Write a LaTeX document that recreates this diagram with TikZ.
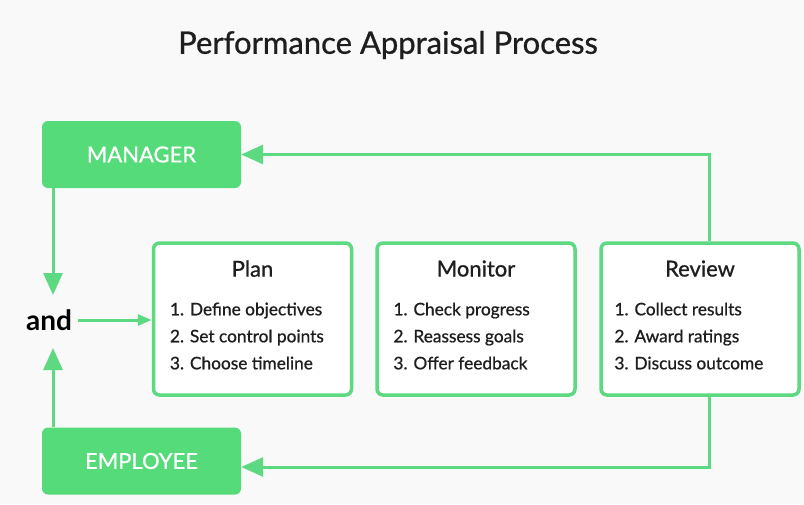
\documentclass[tikz,border=0pt]{standalone}
\usepackage{fontspec}
\setmainfont{Lato}
\newfontfamily\medfont{Lato}[FakeBold=0.8]
\usetikzlibrary{arrows.meta,positioning,calc}
\definecolor{grn}{RGB}{86,219,122}
\definecolor{grnline}{RGB}{93,217,130}
\definecolor{bg}{RGB}{249,249,249}
\definecolor{ink}{RGB}{30,30,30}

\begin{document}
\begin{tikzpicture}[x=1pt,y=-1pt,>={Triangle[length=22pt,width=19pt]}]
\tikzstyle{who}=[fill=grn,rounded corners=6pt,minimum width=199pt,minimum height=67pt,text=white,font=\medfont\fontsize{22}{26}\selectfont]
\tikzstyle{stage}=[draw=grnline,line width=3.5pt,fill=white,rounded corners=6pt,minimum width=198pt,minimum height=152pt]
\tikzstyle{head}=[text=ink,font=\medfont\fontsize{22}{26}\selectfont,inner sep=0pt]
\tikzstyle{items}=[text=ink,align=left,font=\medfont\fontsize{17.3}{27}\selectfont,inner sep=0pt,anchor=west]
\tikzstyle{flow}=[draw=grnline,line width=3pt]
\fill[bg] (0,0) rectangle (804,504);
\useasboundingbox (0,0) rectangle (804,504);
% title
\node[text=ink,font=\medfont\fontsize{31}{36}\selectfont] (title) at (388,45) {Performance Appraisal Process};
% people
\node[who] (manager) at (141.5,154.5) {MANAGER};
\node[who] (employee) at (141.5,461) {EMPLOYEE};
\node[text=black,font=\bfseries\fontsize{28}{32}\selectfont,inner sep=6pt] (and) at (49,320) {and};
% stages
\node[stage] (plan) at (252.5,319) {};
\node[stage] (monitor) at (476,319) {};
\node[stage] (review) at (700,319) {};
\node[head,below=19pt of plan.north] (plan-t) {Plan};
\node[head,below=19pt of monitor.north] (monitor-t) {Monitor};
\node[head,below=19pt of review.north] (review-t) {Review};
\node[items,right=18pt of plan.west,yshift=-17pt] (plan-l) {1. Define objectives\\2. Set control points\\3. Choose timeline};
\node[items,right=18pt of monitor.west,yshift=-17pt] (monitor-l) {1. Check progress\\2. Reassess goals\\3. Offer feedback};
\node[items,right=15pt of review.west,yshift=-17pt] (review-l) {1. Collect results\\2. Award ratings\\3. Discuss outcome};
% connectors
\coordinate (rtop) at ($(review.north)+(9,0)$);
\coordinate (rbot) at ($(review.south)+(9,0)$);
\coordinate (mdown) at (53,295);
\coordinate (eup) at (53,348);
\draw[flow,->] (rtop) |- (manager.east);
\draw[flow,->] (rbot) |- ($(employee.east)+(0,6)$);
\draw[flow,->] (manager.south west -| mdown) -- (mdown);
\draw[flow,->] (employee.north west -| eup) -- (eup);
\draw[flow,-{Triangle[length=14pt,width=11pt]}] (and.east) -- (and -| plan.west);
\end{tikzpicture}
\end{document}
